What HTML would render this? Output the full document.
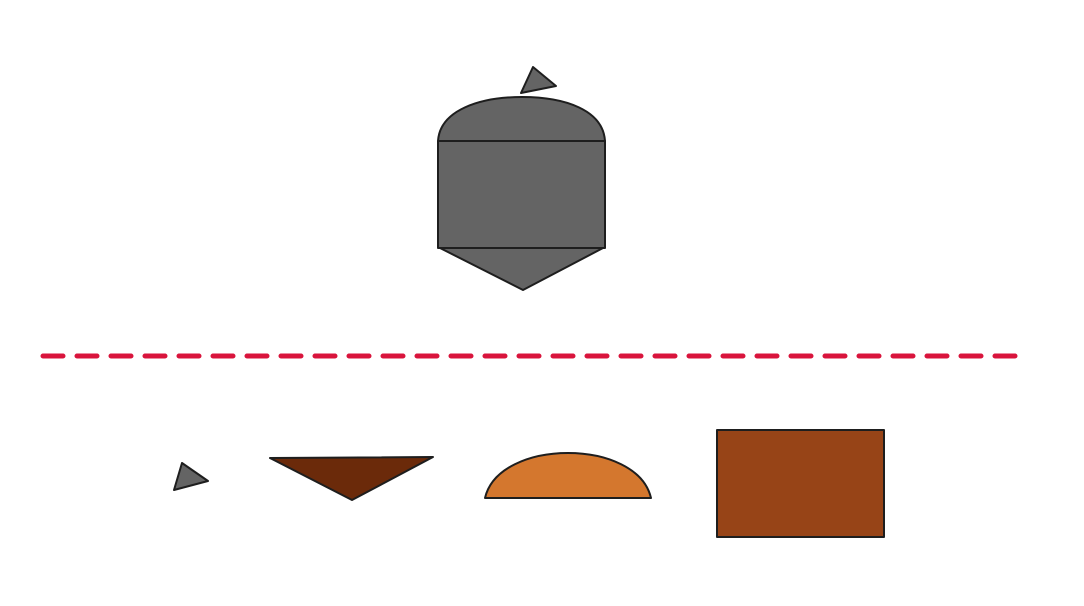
<!DOCTYPE html>
<html><head><meta charset="utf-8"><style>html,body{margin:0;padding:0;background:#fff}svg{display:block}</style></head>
<body>
<svg width="1084" height="606" viewBox="0 0 1084 606">
<g stroke="#1e1e1e" stroke-width="2" stroke-linejoin="round">
<path d="M438,141 C440,110 480,97 522,97 C565,97 603,110 605,141 Z" fill="#646464"/>
<rect x="438" y="141" width="167" height="107" fill="#646464"/>
<path d="M440,248 L603,248 L523,290 Z" fill="#646464"/>
<path d="M521,93 L533,67 L556,86 Z" fill="#646464"/>
<path d="M174,490 L182,463 L208,481 Z" fill="#646464"/>
<path d="M270,458 L433,457 L352,500 Z" fill="#6b2a0a"/>
<path d="M485,498 C492,468 530,453 568,453 C606,453 644,468 651,498 Z" fill="#d4772e"/>
<rect x="717" y="430" width="167" height="107" fill="#974417"/>
</g>
<line x1="43" y1="356" x2="1018" y2="356" stroke="#d9143c" stroke-width="5" stroke-linecap="round" stroke-dasharray="20 14"/>
</svg>
</body></html>
